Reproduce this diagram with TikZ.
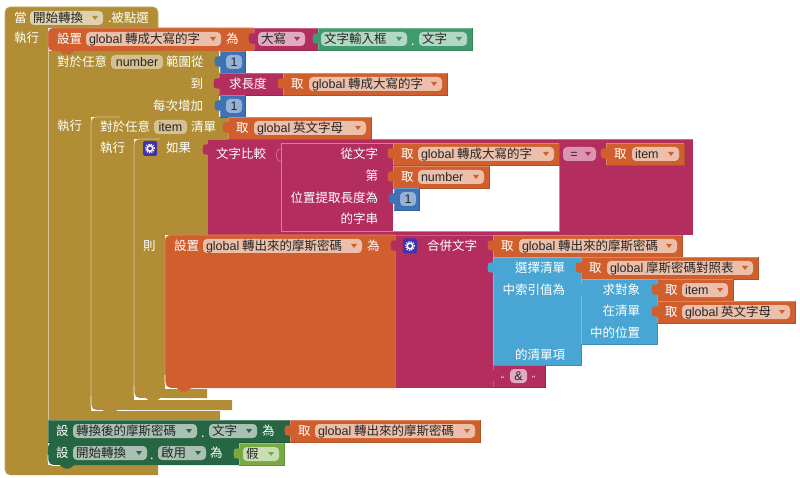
\documentclass[tikz,border=0pt]{standalone}
\usepackage{fontspec}
\setmainfont{Noto Sans CJK TC}
\newfontfamily\lat{Liberation Sans}
\definecolor{gold}{HTML}{B18E35}
\definecolor{orng}{HTML}{D05F2D}
\definecolor{maro}{HTML}{B32D5E}
\definecolor{numb}{HTML}{3F71B5}
\definecolor{lblu}{HTML}{49A6D4}
\definecolor{tgrn}{HTML}{3F9B6D}
\definecolor{dgrn}{HTML}{266643}
\definecolor{lime}{HTML}{77AB41}
\definecolor{gearb}{HTML}{3F33B0}
\newcount\nid
\newcommand\nidnext{\global\advance\nid by 1 }
\def\tricol{orng}
\tikzset{
  bklabel/.style={inner sep=0pt,outer sep=0pt,text=white,font=\fontsize{12.5}{13}\selectfont},
  bkvalue/.style={inner sep=0pt,outer sep=0pt,text=black!85,font=\fontsize{12.5}{13}\selectfont},
  bkedge/.style={line width=.6pt}
}
% colour x1 y1 x2 y2
\newcommand\bkrect[5]{%
  \fill[#1] (#2,#3) rectangle (#4,#5);
  \draw[bkedge,#1!75!white] (#2,#5)--(#2,#3)--(#4,#3);
  \draw[bkedge,#1!85!black] (#4,#3)--(#4,#5)--(#2,#5);
}
% x y(top) colour
\newcommand\bktab[3]{%
  \fill[#3] ({#1+1},{#2+5}) -- ({#1-1.5},{#2+5.5}) .. controls ({#1-5},{#2+5}) and ({#1-5.5},{#2+7.5}) .. ({#1-5.5},{#2+10.5}) .. controls ({#1-5.5},{#2+13.5}) and ({#1-5},{#2+16}) .. ({#1-1.5},{#2+15.5}) -- ({#1+1},{#2+16}) -- cycle;
}
% x y colour
\newcommand\bknotch[3]{%
  \fill[#3] ({#1-8},{#2-.5}) .. controls ({#1-6},{#2}) and ({#1-4},{#2+3.5}) .. ({#1-2},{#2+3.5}) -- ({#1+2},{#2+3.5}) .. controls ({#1+4},{#2+3.5}) and ({#1+6},{#2}) .. ({#1+8},{#2-.5}) -- cycle;
}
% x1 x2 yc text
\newcommand\bkfield[4]{%
  \fill[white,opacity=.6,rounded corners=4pt] (#1,{#3-7}) rectangle (#2,{#3+7});
  \nidnext
  \node[bkvalue,anchor=base west] (f\the\nid) at ({#1+3},{#3+4.5}) {#4};
  \fill[\tricol] ({#2-11},{#3-2}) -- ({#2-5},{#3-2}) -- ({#2-8},{#3+2}) -- cycle;
}
\newcommand\bkfieldn[4]{%
  \fill[white,opacity=.45,rounded corners=4pt] (#1,{#3-7}) rectangle (#2,{#3+7});
  \nidnext
  \node[bkvalue,anchor=base] (f\the\nid) at ({(#1+#2)/2},{#3+4.5}) {#4};
}
\newcommand\bktext[3]{\nidnext\node[bklabel,anchor=base west] (t\the\nid) at (#1,{#2+4.5}) {#3};}
\newcommand\bktextr[3]{\nidnext\node[bklabel,anchor=base east] (t\the\nid) at (#1,{#2+4.5}) {#3};}
% getter: x1 x2 y(top) field-x1 text
\newcommand\bkget[5]{%
  \bkrect{orng}{#1}{#3}{#2}{#3+22}
  \bktab{#1}{#3}{orng}
  \bktext{#1+8}{#3+11}{取}
  \bkfield{#4}{#2-5}{#3+11}{#5}
}
\newcommand\bknum[2]{%
  \bkrect{numb}{#1}{#2}{#1+25}{#2+22}
  \bktab{#1}{#2}{numb}
  \bkfieldn{#1+6}{#1+22}{#2+11}{\lat 1}
}
\newcommand\bkgearat[2]{%
  \fill[gearb,rounded corners=1.5pt] ({#1-7},{#2-7.5}) rectangle ({#1+7},{#2+7.5});
  \draw[white,line width=1.5pt] (#1,#2) circle (2.8pt);
  \draw[white,line width=1.2pt,dash pattern=on 1.2pt off 1.2pt] (#1,#2) circle (4.4pt);
}
\begin{document}
\begin{tikzpicture}[x=1pt,y=-1pt]
\useasboundingbox (0,0) rectangle (800,478);
\fill[white] (0,0) rectangle (800,478);

% outer event block
\fill[gold] (48,28) -- (158,28) [rounded corners=5pt] -- (158,7) -- (5,7) -- (5,475) [sharp corners] -- (158,475) -- (158,465) -- (48,465) -- cycle;
\draw[bkedge,gold!75!white] (5,470) -- (5,12) [rounded corners=5pt] -- (5,7) -- (158,7) -- (158,28);
\def\tricol{gold}
\bktext{14}{18}{當}
\bkfield{30}{103}{18}{開始轉換}
\bktext{108}{18}{.被點選}
\bktext{14}{38.5}{執行}

% for number
\fill[gold] (48,51) -- (219,51) -- (219,117) -- (91,117) -- (91,411) -- (220,411) -- (220,421) -- (48,421) -- cycle;
\draw[bkedge,white!50!gold] (48,51) -- (48,420);
\bktext{57}{62}{對於任意}
\bkfieldn{111}{163}{62}{\lat number}
\bktext{166}{62}{範圍從}
\bktextr{203}{84}{到}
\bktextr{203}{106}{每次增加}
\bktext{57}{126}{執行}

% inner for
\fill[gold] (232,139) -- (232,117) [rounded corners=5pt] -- (91,117) -- (91,410) [sharp corners] -- (232,410) -- (232,400) -- (134,400) -- (134,139) -- cycle;
\draw[white,line width=.9pt,rounded corners=5pt] (91,396) -- (91,410.5) -- (130,410.5);
\draw[bkedge,white!50!gold,rounded corners=5pt] (91,396) -- (91,117) -- (120,117);
\bktext{100}{127}{對於任意}
\bkfieldn{154}{187}{127}{\lat item}
\bktext{191}{127}{清單}
\bktext{100}{148}{執行}

% if block
\fill[gold] (207,139) [rounded corners=5pt] -- (134,139) -- (134,398) [sharp corners] -- (207,398) -- (207,389) -- (165,389) -- (165,235) -- (207,235) -- cycle;
\draw[white,line width=.9pt,rounded corners=5pt] (134,385) -- (134,398.5) -- (165,398.5);
\draw[bkedge,white!50!gold,rounded corners=5pt] (134,385) -- (134,139) -- (160,139);
\bkgearat{150}{148.5}
\bktext{166}{148.5}{如果}
\bktext{143}{246}{則}
\bknotch{110}{410}{gold}
\bknotch{153}{398}{gold}
\def\tricol{orng}

% compare block
\fill[maro] (207,139) rectangle (693,235);
\draw[bkedge,maro!70!white] (207,235) -- (207,139) -- (693,139);
\bktab{208}{139}{maro}
\bktext{216}{154}{文字比較}
\fill[white] (393,165) rectangle (559,231);
\draw[bkedge,maro!60!white] (393,143) -- (281,143) -- (281,231) -- (559,231) -- (559,165);
\draw[bkedge,maro!60!white] (281,149) .. controls (275,147) and (275,163) .. (281,161);
\bktextr{378}{154}{從文字}
\bktextr{378}{176}{第}
\bktextr{378}{198}{位置提取長度為}
\bktextr{378}{219}{的字串}
\bkget{393}{559}{143}{418}{{\lat global} 轉成大寫的字}
\bkget{393}{489}{166}{418}{\lat number}
\bknum{394}{188}
\fill[white,opacity=.5,rounded corners=4pt] (563,147) rectangle (596,161);
\nidnext\node[bkvalue,anchor=base] (f\the\nid) at (574,158.5) {\lat =};
\fill[maro] (585,152) -- (591,152) -- (588,156) -- cycle;
\bkget{606}{684}{143}{632}{\lat item}

% set global output
\fill[orng] (395,388) -- (170,388) [rounded corners=6pt] -- (165,388) -- (165,235) [sharp corners] -- (395,235) -- cycle;
\draw[bkedge,orng!75!white,rounded corners=6pt] (165,380) -- (165,235) -- (395,235);
\draw[white,line width=.9pt,rounded corners=6pt] (165,375) -- (165,388.5) -- (178,388.5);
\bknotch{184}{388}{orng}
\bktext{174}{246}{設置}
\bkfield{203}{362}{246}{{\lat global} 轉出來的摩斯密碼}
\bktext{367}{246}{為}

% join
\fill[maro] (395,235) rectangle (493,388);
\draw[bkedge,maro!75!white] (395,388) -- (395,235) -- (493,235);
\bktab{396}{235}{maro}
\bkgearat{410}{246}
\bktext{427}{246}{合併文字}
\bkget{493}{682}{235}{519}{{\lat global} 轉出來的摩斯密碼}

% select list item
\bkrect{lblu}{493}{257}{581}{365}
\bktab{493}{257}{lblu}
\bktextr{565}{268}{選擇清單}
\bktextr{565}{290}{中索引值為}
\bktextr{565}{355}{的清單項}
\bkget{581}{758}{257}{607}{{\lat global} 摩斯密碼對照表}
\bkrect{lblu}{581}{279}{657}{344}
\bktab{581}{279}{lblu}
\bktextr{640}{290}{求對象}
\bktextr{640}{311}{在清單}
\bktextr{640}{333}{中的位置}
\bkget{657}{733}{279}{682}{\lat item}
\bkget{657}{795}{301}{682}{{\lat global} 英文字母}

% text &
\bkrect{maro}{493}{365}{545}{387}
\bktab{493}{365}{maro}
\bktext{501}{378}{\fontsize{9}{9}\selectfont\lat “}
\fill[white,opacity=.6,rounded corners=4pt] (510,369) rectangle (527,383);
\nidnext\node[bkvalue,anchor=base] (f\the\nid) at (518.5,380.5) {\lat\&};
\bktext{532}{378}{\fontsize{9}{9}\selectfont\lat ”}

% top set row
\fill[orng] (254,51) -- (254,28) -- (53,28) [rounded corners=5pt] -- (48,28) -- (48,51) [sharp corners] -- cycle;
\draw[bkedge,orng!75!white,rounded corners=5pt] (48,51) -- (48,28) -- (254,28);
\bknotch{67}{51}{orng}
\bktext{57}{39}{設置}
\bkfield{86}{221}{39}{{\lat global} 轉成大寫的字}
\bktext{226}{39}{為}
\bkrect{maro}{254}{28}{318}{50}
\bktab{254}{28}{maro}
\def\tricol{maro}
\bkfield{258}{305}{39}{大寫}
\bkrect{tgrn}{318}{28}{472}{50}
\bktab{318}{28}{tgrn}
\def\tricol{tgrn}
\bkfield{321}{407}{39}{文字輸入框}
\bktext{411}{41}{.}
\bkfield{419}{467}{39}{文字}
\def\tricol{orng}

% values of the for block
\bknum{220}{51}
\bkrect{maro}{219}{73}{283}{95}
\bktab{219}{73}{maro}
\bktext{229}{84}{求長度}
\bkget{283}{447}{73}{309}{{\lat global} 轉成大寫的字}
\bknum{220}{95}
\bkget{228}{371}{117}{254}{{\lat global} 英文字母}

% bottom rows
\bkrect{dgrn}{48}{420}{290}{442}
\def\tricol{dgrn}
\bktext{56}{431}{設}
\bkfield{73}{197}{431}{轉換後的摩斯密碼}
\bktext{201}{433}{.}
\bkfield{209}{257}{431}{文字}
\bktext{262}{431}{為}
\def\tricol{orng}
\bkget{290}{480}{420}{315}{{\lat global} 轉出來的摩斯密碼}
\fill[dgrn] (239,442) -- (239,465) -- (53,465) [rounded corners=5pt] -- (48,465) -- (48,442) [sharp corners] -- cycle;
\draw[white,line width=.9pt,rounded corners=5pt] (48,455) -- (48,465.5) -- (60,465.5);
\bknotch{67}{465}{dgrn}
\def\tricol{dgrn}
\bktext{56}{453}{設}
\bkfield{73}{147}{453}{開始轉換}
\bktext{150}{455}{.}
\bkfield{158}{206}{453}{啟用}
\bktext{210}{453}{為}
\bkrect{lime}{239}{443}{284}{465}
\bktab{239}{443}{lime}
\def\tricol{lime}
\bkfield{243}{279}{454}{假}
\end{tikzpicture}
\end{document}
